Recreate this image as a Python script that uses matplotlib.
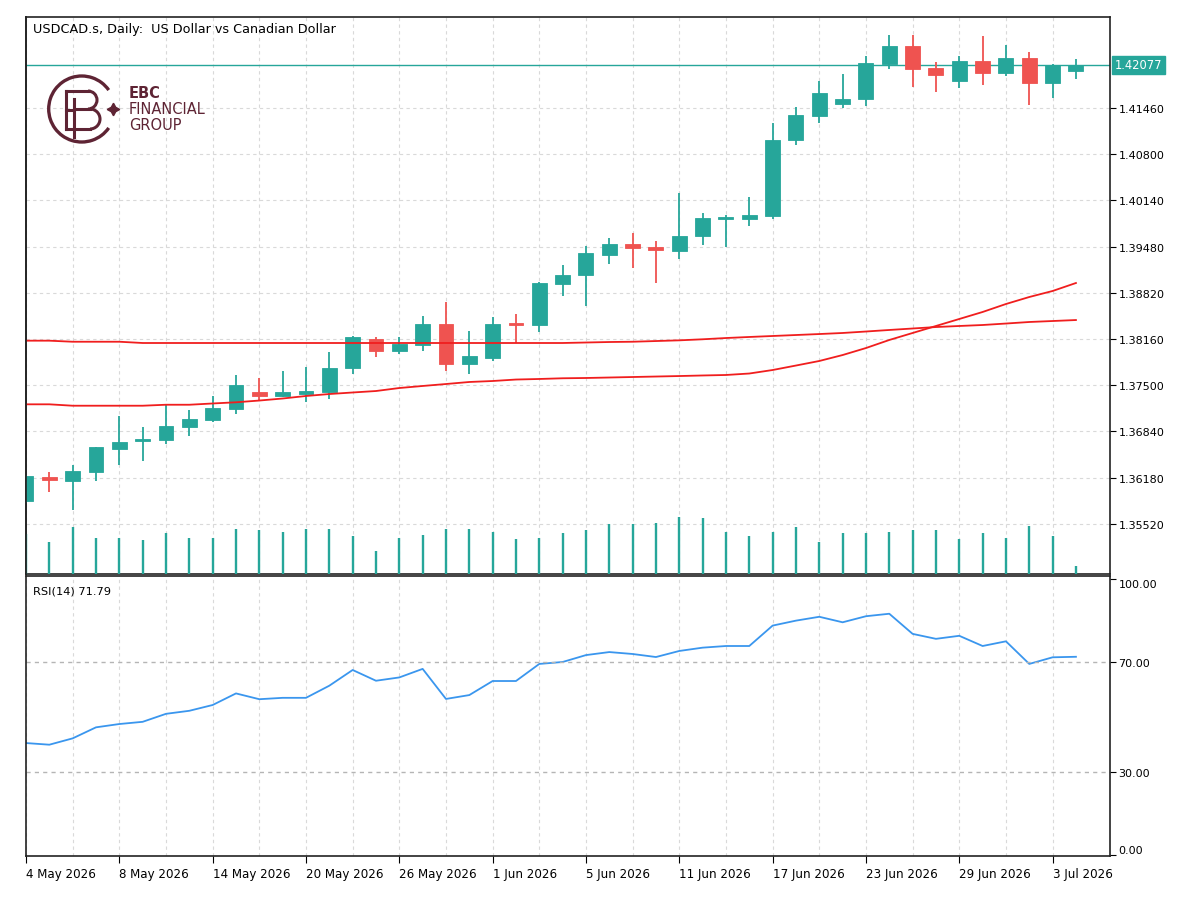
#imports
import matplotlib
matplotlib.use("Agg")
import matplotlib.pyplot as plt
from matplotlib.patches import Arc

#daily bars 4 May 2026 .. 6 Jul 2026 (one label every 4 bars)
date_labels = ["4 May 2026", "8 May 2026", "14 May 2026", "20 May 2026", "26 May 2026",
               "1 Jun 2026", "5 Jun 2026", "11 Jun 2026", "17 Jun 2026", "23 Jun 2026",
               "29 Jun 2026", "3 Jul 2026"]

opens = [1.35846, 1.36193, 1.36136, 1.36260, 1.36593, 1.36703, 1.36721, 1.36903, 1.37007, 1.37156,
         1.37399, 1.37350, 1.37374, 1.37399, 1.37741, 1.38160, 1.37989, 1.38079, 1.38374, 1.37803,
         1.37884, 1.38384, 1.38364, 1.38946, 1.39070, 1.39360, 1.39513, 1.39474, 1.39421, 1.39627,
         1.39874, 1.39874, 1.39917, 1.40999, 1.41350, 1.41517, 1.41584, 1.42089, 1.42341, 1.42031,
         1.41850, 1.42131, 1.41956, 1.42174, 1.41813, 1.41993]
highs = [1.36217, 1.36260, 1.36360, 1.36617, 1.37064, 1.36899, 1.37217, 1.37150, 1.37341, 1.37650,
         1.37607, 1.37707, 1.37756, 1.37979, 1.38207, 1.38184, 1.38184, 1.38493, 1.38684, 1.38270,
         1.38479, 1.38517, 1.38979, 1.39221, 1.39493, 1.39603, 1.39679, 1.39556, 1.40246, 1.39956,
         1.39931, 1.40184, 1.41241, 1.41470, 1.41841, 1.41946, 1.42199, 1.42507, 1.42507, 1.42113,
         1.42199, 1.42484, 1.42364, 1.42256, 1.42090, 1.42160]
lows = [1.35817, 1.35970, 1.35721, 1.36136, 1.36360, 1.36421, 1.36656, 1.36779, 1.36970, 1.37093,
        1.37279, 1.37327, 1.37256, 1.37303, 1.37660, 1.37907, 1.37946, 1.37993, 1.37707, 1.37660,
        1.37850, 1.38103, 1.38256, 1.38779, 1.38627, 1.39231, 1.39174, 1.38960, 1.39299, 1.39503,
        1.39479, 1.39770, 1.39874, 1.40936, 1.41246, 1.41460, 1.41493, 1.42017, 1.41764, 1.41684,
        1.41746, 1.41789, 1.41913, 1.41499, 1.41603, 1.41874]
closes = [1.36203, 1.36141, 1.36274, 1.36613, 1.36689, 1.36731, 1.36917, 1.37021, 1.37170, 1.37499,
          1.37346, 1.37399, 1.37421, 1.37746, 1.38184, 1.37989, 1.38089, 1.38374, 1.37803, 1.37913,
          1.38374, 1.38364, 1.38956, 1.39079, 1.39389, 1.39513, 1.39464, 1.39427, 1.39636, 1.39889,
          1.39899, 1.39927, 1.41007, 1.41364, 1.41674, 1.41593, 1.42107, 1.42341, 1.42021, 1.41936,
          1.42131, 1.41956, 1.42174, 1.41813, 1.42079, 1.42077]
volumes = [120, 95, 138, 108, 108, 100, 122, 108, 108, 134,
           130, 125, 134, 134, 113, 69, 108, 117, 134, 134,
           125, 104, 108, 121, 130, 148, 148, 152, 169, 165,
           125, 113, 125, 139, 95, 121, 121, 125, 130, 130,
           104, 121, 108, 143, 113, 25]
ma_slow = [1.38136, 1.38136, 1.38121, 1.38121, 1.38121, 1.38103, 1.38103, 1.38103, 1.38103, 1.38103,
           1.38103, 1.38103, 1.38103, 1.38103, 1.38103, 1.38103, 1.38103, 1.38103, 1.38103, 1.38103,
           1.38103, 1.38103, 1.38103, 1.38103, 1.38110, 1.38117, 1.38121, 1.38131, 1.38141, 1.38156,
           1.38174, 1.38189, 1.38203, 1.38217, 1.38231, 1.38246, 1.38267, 1.38289, 1.38310, 1.38331,
           1.38346, 1.38360, 1.38381, 1.38403, 1.38417, 1.38431]
ma_fast = [1.37227, 1.37227, 1.37207, 1.37207, 1.37207, 1.37207, 1.37221, 1.37221, 1.37239, 1.37256,
           1.37281, 1.37310, 1.37346, 1.37374, 1.37396, 1.37417, 1.37460, 1.37489, 1.37517, 1.37546,
           1.37560, 1.37581, 1.37589, 1.37599, 1.37603, 1.37610, 1.37617, 1.37624, 1.37631, 1.37639,
           1.37646, 1.37667, 1.37717, 1.37781, 1.37846, 1.37931, 1.38031, 1.38146, 1.38246, 1.38346,
           1.38446, 1.38546, 1.38660, 1.38760, 1.38846, 1.38960]
rsi = [40.5, 39.9, 42.2, 46.2, 47.4, 48.2, 51.1, 52.2, 54.3, 58.5,
       56.4, 56.9, 56.9, 61.3, 67.0, 63.1, 64.3, 67.4, 56.5, 57.9,
       63.0, 63.0, 69.2, 69.9, 72.4, 73.5, 72.8, 71.7, 73.9, 75.1,
       75.7, 75.7, 83.1, 84.9, 86.3, 84.3, 86.5, 87.4, 80.1, 78.3,
       79.4, 75.7, 77.4, 69.2, 71.6, 71.79]
price_ticks = [1.35520, 1.36180, 1.36840, 1.37500, 1.38160, 1.38820, 1.39480, 1.40140, 1.40800, 1.41460]

GREEN = "#26a69a"
RED = "#ef5350"
MA_RED = "#f01e1e"
GRID = "#d9d9d9"
LOGO = "#5e2434"
BORDER = "#222222"

plt.rcParams["font.family"] = "DejaVu Sans"
plt.rcParams["font.size"] = 8

W, H = 1200, 903
fig = plt.figure(figsize=(12, 9.03), dpi=100)

def px_axes(x0, y0, x1, y1):
    return fig.add_axes([x0 / W, 1 - y1 / H, (x1 - x0) / W, (y1 - y0) / H])

n = len(closes)
x = list(range(n))
XLIM = (0.04, 46.46)

#main price panel, volume drawn on a twin axes on top (grid stays behind it)
ax = px_axes(26, 18, 1110, 575)
ax_v = ax.twinx()
ax_v.set_zorder(ax.get_zorder() + 1)
ax_v.patch.set_visible(False)

ax_v.vlines(x, 0, volumes, color=GREEN, lw=1.7)
ax_v.set_ylim(0, 1651)
ax_v.set_yticks([])
for name, s in ax_v.spines.items():
    s.set_visible(name == "left")
    s.set_color(BORDER)
    s.set_linewidth(1.2)

for i in x:
    col = GREEN if closes[i] >= opens[i] else RED
    ax.vlines(i, lows[i], highs[i], color=col, lw=1.3, zorder=3)
    lo = min(opens[i], closes[i])
    hi = max(opens[i], closes[i])
    ax.bar(i, max(hi - lo, 0.00012), bottom=lo, width=0.64, color=col,
           edgecolor=col, lw=0.6, zorder=4)

ax.plot(x, ma_slow, color=MA_RED, lw=1.3, zorder=5)
ax.plot(x, ma_fast, color=MA_RED, lw=1.3, zorder=5)
ax.axhline(closes[-1], color=GREEN, lw=1.0, zorder=2)

ax.set_xlim(*XLIM)
ax.set_ylim(1.34803, 1.42760)
ax.set_yticks(price_ticks)
ax.set_yticklabels([f"{v:.5f}" for v in price_ticks])
ax.set_xticks(range(0, n, 4))
ax.set_xticks(range(0, n, 2), minor=True)
ax.tick_params(axis="x", which="both", length=0, labelbottom=False)
ax.tick_params(axis="y", left=False, labelleft=False, right=True, labelright=True,
               length=4, pad=2, colors="black")
ax.grid(axis="x", which="both", color=GRID, ls=(0, (3, 3)), lw=0.8)
ax.grid(axis="y", color=GRID, ls=(0, (3, 3)), lw=0.8)
ax.set_axisbelow(True)
for s in ax.spines.values():
    s.set_color(BORDER)
    s.set_linewidth(1.2)

ax.annotate(f"{closes[-1]:.5f}", xy=(1.0, closes[-1]), xycoords=("axes fraction", "data"),
            xytext=(3.5, 0), textcoords="offset points", va="center", ha="left",
            color="white", fontsize=8.3, annotation_clip=False,
            bbox=dict(boxstyle="square,pad=0.22", fc=GREEN, ec=GREEN))

#RSI panel
ax_r = px_axes(26, 577, 1110, 857)
ax_r.plot(x, rsi, color="#3a96ee", lw=1.3)
ax_r.axhline(70, color="#b5b5b5", ls=(0, (3, 3)), lw=1.0)
ax_r.axhline(30, color="#b5b5b5", ls=(0, (3, 3)), lw=1.0)
ax_r.set_xlim(*XLIM)
ax_r.set_ylim(-0.47, 101.09)
ax_r.set_yticks([0, 30, 70, 100])
ax_r.set_yticklabels(["0.00", "30.00", "70.00", "100.00"])
ax_r.tick_params(axis="y", left=False, labelleft=False, right=True, labelright=True,
                 length=4, pad=2)
ylabs = ax_r.get_yticklabels()
ylabs[0].set_va("bottom")
ylabs[3].set_va("top")
ax_r.set_xticks(range(0, n, 4))
ax_r.set_xticklabels(date_labels, ha="left", fontsize=8.6)
ax_r.set_xticks(range(0, n, 2), minor=True)
ax_r.tick_params(axis="x", which="major", length=5, pad=3)
ax_r.tick_params(axis="x", which="minor", length=0)
ax_r.grid(axis="x", which="both", color=GRID, ls=(0, (3, 3)), lw=0.8)
ax_r.set_axisbelow(True)
for s in ax_r.spines.values():
    s.set_color(BORDER)
    s.set_linewidth(1.2)

#overlay in pixel coordinates for titles and logo
ov = fig.add_axes([0, 0, 1, 1])
ov.set_xlim(0, W)
ov.set_ylim(H, 0)
ov.axis("off")
ov.patch.set_visible(False)

ov.text(33, 29, "USDCAD.s, Daily:  US Dollar vs Canadian Dollar", va="center", ha="left",
        fontsize=9.2)
ov.text(33, 592, "RSI(14) 71.79", va="center", ha="left", fontsize=8.2)

#EBC logo
ov.add_patch(Arc((81.7, 110), 66, 66, theta1=35, theta2=325, color=LOGO, lw=2.4))
ov.plot(113, 109.5, marker=(4, 1, 0), ms=9, color=LOGO)
ov.plot([66, 66], [92, 130], color=LOGO, lw=2.2)
ov.plot([66, 88], [92, 92], color=LOGO, lw=2.2)
ov.plot([66, 74], [111, 111], color=LOGO, lw=2.2)
ov.plot([66, 90], [130, 130], color=LOGO, lw=2.2)
ov.plot([74, 74], [100, 138], color=LOGO, lw=2.2)
ov.plot([74, 90], [110, 110], color=LOGO, lw=2.2)
ov.add_patch(Arc((88, 101), 18, 18, theta1=-90, theta2=90, color=LOGO, lw=2.2))
ov.add_patch(Arc((90, 120), 20, 20, theta1=-90, theta2=90, color=LOGO, lw=2.2))
ov.text(129, 93, "EBC", va="center", ha="left", fontsize=10.5, fontweight="bold", color=LOGO)
ov.text(129, 110, "FINANCIAL", va="center", ha="left", fontsize=10.5, color=LOGO)
ov.text(129, 126, "GROUP", va="center", ha="left", fontsize=10.5, color=LOGO)

fig.savefig("out.png", dpi=100, facecolor="white")
